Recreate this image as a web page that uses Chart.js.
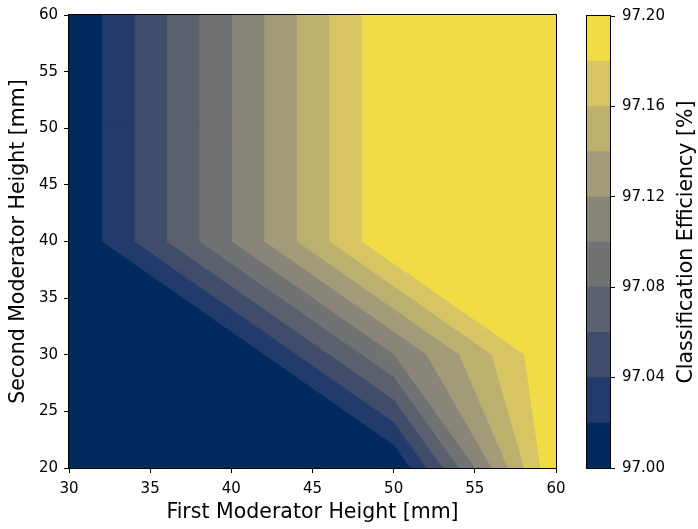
<!DOCTYPE html>
<html>
<head>
<meta charset="utf-8">
<script src="https://cdn.jsdelivr.net/npm/chart.js@4.4.1/dist/chart.umd.min.js"></script>
<style>
  html, body { margin: 0; padding: 0; background: #fff; }
  #wrap { position: relative; width: 698px; height: 529px; }
  #contour { position: absolute; left: 0; top: 0; }
  #colorbar { position: absolute; left: 575px; top: 0; }
</style>
</head>
<body>
<div id="wrap">
  <canvas id="contour" width="575" height="529"></canvas>
  <canvas id="colorbar" width="123" height="529"></canvas>
</div>
<script>
// scan grid (mm)
const firstHeights = [30, 40, 50, 60];
const secondHeights = [20, 30, 40, 50, 60];

// classification efficiency [%], one row per second moderator height
const effAt20 = [97.00, 97.00, 97.00, 97.20];
const effAt30 = [97.00, 97.00, 97.10, 97.20];
const effAt40 = [97.00, 97.10, 97.20, 97.20];
const effAt50 = [97.00, 97.10, 97.20, 97.20];
const effAt60 = [97.00, 97.10, 97.20, 97.20];
const efficiency = [effAt20, effAt30, effAt40, effAt50, effAt60];

// contour levels and the cividis colour of each band
const levels = [97.00, 97.02, 97.04, 97.06, 97.08, 97.10, 97.12, 97.14, 97.16, 97.18, 97.20];
const bandColors = ['#002a5e', '#233a6c', '#414c6b', '#5a606e', '#717273',
                    '#898679', '#a29b77', '#bcb06f', '#d6c562', '#f1dc46'];

const xTicks = [30, 35, 40, 45, 50, 55, 60];
const yTicks = [20, 25, 30, 35, 40, 45, 50, 55, 60];
const cbTicks = [97.00, 97.04, 97.08, 97.12, 97.16, 97.20];

const xLabel = 'First Moderator Height [mm]';
const yLabel = 'Second Moderator Height [mm]';
const cbLabel = 'Classification Efficiency [%]';

Chart.defaults.font.family = '"DejaVu Sans", sans-serif';
Chart.defaults.color = '#000';

const EPS = 1e-9;

// Sutherland-Hodgman clip of a cell polygon against z >= level (above) or z <= level
function clipPoly(poly, level, above) {
  const inside = p => above ? p.z >= level - EPS : p.z <= level + EPS;
  const out = [];
  for (let i = 0; i < poly.length; i++) {
    const p = poly[i], q = poly[(i + 1) % poly.length];
    const pin = inside(p), qin = inside(q);
    if (pin) out.push(p);
    if (pin !== qin) {
      const t = (level - p.z) / (q.z - p.z);
      out.push({ x: p.x + t * (q.x - p.x), y: p.y + t * (q.y - p.y), z: level });
    }
  }
  return out;
}

function area(poly) {
  let s = 0;
  for (let i = 0; i < poly.length; i++) {
    const p = poly[i], q = poly[(i + 1) % poly.length];
    s += p.x * q.y - q.x * p.y;
  }
  return Math.abs(s) / 2;
}

// one filled polygon per band per grid cell
const bandDatasets = [];
for (let b = 0; b < bandColors.length; b++) {
  for (let j = 0; j < secondHeights.length - 1; j++) {
    for (let i = 0; i < firstHeights.length - 1; i++) {
      const x0 = firstHeights[i], x1 = firstHeights[i + 1];
      const y0 = secondHeights[j], y1 = secondHeights[j + 1];
      let poly = [
        { x: x0, y: y0, z: efficiency[j][i] },
        { x: x1, y: y0, z: efficiency[j][i + 1] },
        { x: x1, y: y1, z: efficiency[j + 1][i + 1] },
        { x: x0, y: y1, z: efficiency[j + 1][i] }
      ];
      poly = clipPoly(poly, levels[b], true);
      if (poly.length < 3) continue;
      poly = clipPoly(poly, levels[b + 1], false);
      if (poly.length < 3 || area(poly) < 1e-6) continue;
      const pts = poly.map(p => ({ x: p.x, y: p.y }));
      pts.push(pts[0]);
      bandDatasets.push({
        data: pts,
        showLine: true,
        fill: 'shape',
        backgroundColor: bandColors[b],
        borderColor: bandColors[b],
        borderWidth: 1,
        pointRadius: 0,
        pointHoverRadius: 0,
        tension: 0
      });
    }
  }
}

const frame = {
  id: 'frame',
  afterDraw(chart) {
    const { ctx, chartArea: a } = chart;
    ctx.save();
    ctx.strokeStyle = '#000';
    ctx.lineWidth = 1;
    ctx.strokeRect(a.left - 0.5, a.top - 0.5, a.right - a.left + 1, a.bottom - a.top + 1);
    ctx.restore();
  }
};

const tickGrid = { drawOnChartArea: false, drawTicks: true, tickLength: 5, color: '#000', lineWidth: 1 };

new Chart(document.getElementById('contour'), {
  type: 'scatter',
  data: { datasets: bandDatasets },
  options: {
    responsive: false,
    animation: false,
    events: [],
    layout: { padding: { left: 0, top: 14, right: 19, bottom: 0 } },
    plugins: { legend: { display: false }, tooltip: { enabled: false } },
    scales: {
      x: {
        type: 'linear',
        min: 30,
        max: 60,
        afterBuildTicks: s => { s.ticks = xTicks.map(v => ({ value: v })); },
        afterFit: s => { s.height = 61; },
        ticks: { font: { size: 15 }, padding: 7, maxRotation: 0 },
        grid: tickGrid,
        border: { display: false },
        title: { display: true, text: xLabel, font: { size: 20.5 }, padding: { top: 0, bottom: 4 } }
      },
      y: {
        type: 'linear',
        min: 20,
        max: 60,
        afterBuildTicks: s => { s.ticks = yTicks.map(v => ({ value: v })); },
        afterFit: s => { s.width = 69; },
        ticks: { font: { size: 15 }, padding: 6 },
        grid: tickGrid,
        border: { display: false },
        title: { display: true, text: yLabel, font: { size: 20.5 }, padding: { top: 6, bottom: 0 } }
      }
    }
  },
  plugins: [frame]
});

// colorbar label reads bottom to top, like the left axis title
const cbTitle = {
  id: 'cbTitle',
  afterDraw(chart) {
    const { ctx, chartArea: a } = chart;
    ctx.save();
    ctx.translate(a.right + 77, (a.top + a.bottom) / 2);
    ctx.rotate(-Math.PI / 2);
    ctx.font = '20.5px "DejaVu Sans"';
    ctx.fillStyle = '#000';
    ctx.textAlign = 'center';
    ctx.textBaseline = 'middle';
    ctx.fillText(cbLabel, 0, 0);
    ctx.restore();
  }
};

new Chart(document.getElementById('colorbar'), {
  type: 'bar',
  data: {
    labels: [''],
    datasets: bandColors.map((c, i) => ({
      data: [[levels[i], levels[i + 1]]],
      backgroundColor: c,
      borderWidth: 0,
      grouped: false,
      barPercentage: 1,
      categoryPercentage: 1
    }))
  },
  options: {
    responsive: false,
    animation: false,
    events: [],
    layout: { padding: { left: 12, top: 14, right: 0, bottom: 61 } },
    plugins: { legend: { display: false }, tooltip: { enabled: false } },
    scales: {
      x: { display: false },
      y: {
        position: 'right',
        min: 97.00,
        max: 97.20,
        afterBuildTicks: s => { s.ticks = cbTicks.map(v => ({ value: v })); },
        afterFit: s => { s.width = 88; },
        ticks: { font: { size: 15 }, padding: 7, callback: v => v.toFixed(2) },
        grid: tickGrid,
        border: { display: false }
      }
    }
  },
  plugins: [frame, cbTitle]
});
</script>
</body>
</html>
